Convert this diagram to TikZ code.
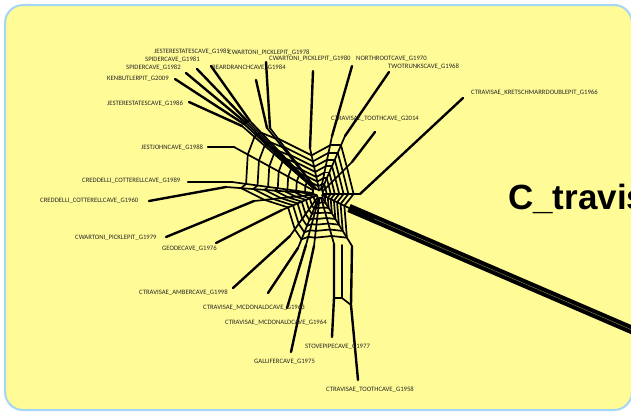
\documentclass[tikz,border=0pt]{standalone}
\usepackage{fontspec}
\setmainfont{Carlito}
\newfontfamily\titlefont{Liberation Sans}
\usetikzlibrary{calc}
\definecolor{bgyellow}{RGB}{255,251,150}
\definecolor{bdblue}{RGB}{165,215,245}
\definecolor{bandline}{RGB}{150,145,100}
\tikzset{
  leafedge/.style={line width=2.4pt, line cap=round},
  meshedge/.style={line width=1.7pt, line cap=round, line join=round},
  leaflabel/.style={anchor=west, inner sep=0pt, font=\fontsize{6.7}{7}\selectfont, text=black!85},
}
\begin{document}
\begin{tikzpicture}[x=1pt,y=-1pt]
\useasboundingbox (0,0) rectangle (631,415);
\clip (0,0) rectangle (631,415);
\fill[white] (0,0) rectangle (631,415);
\draw[bdblue, line width=2pt, fill=bgyellow, rounded corners=18pt] (5,5) rectangle (632,410);
\node[anchor=base west, inner sep=0pt, font=\titlefont\bfseries\fontsize{35}{40}\selectfont] (title) at (508,209) {C\_travis};

\coordinate (C) at (320,194);
\foreach \n/\lx/\ly/\px/\py [count=\c] in {
  k/463/98/360/194, band/660/342/349/208, ga/358/380/352/246, st/332/337/334/244,
  gl/291/352/314/246, mb/287/308/306/245, ma/268/293/298/248, am/233/288/290/236,
  ge/216/243/282/210, cw/166/237/254/201, ca/149/201/226/187, cb/188/182/232/182,
  jj/208/147/234/147, jb/189/102/242/126, kb/175/79/244/124, sb/186/73/246/123,
  sa/197/69/248/122, ja/211/66/250/121, br/256/80/267/128, wa/266/62/270/128,
  wb/313/71/310/148, nr/352/66/332/136, tt/389/72/345/136, tc/375/132/352/162} {
  \coordinate (L\c) at (\lx,\ly);
  \coordinate (P\c) at (\px,\py);
  \coordinate (R1\c) at ($(C)!0.84!(P\c)$);
  \coordinate (R2\c) at ($(C)!0.71!(P\c)$);
  \coordinate (R3\c) at ($(C)!0.59!(P\c)$);
  \coordinate (R4\c) at ($(C)!0.48!(P\c)$);
  \coordinate (R5\c) at ($(C)!0.37!(P\c)$);
  \coordinate (R6\c) at ($(C)!0.27!(P\c)$);
  \coordinate (R7\c) at ($(C)!0.17!(P\c)$);
  \coordinate (R8\c) at ($(C)!0.08!(P\c)$);
}
% mesh
\foreach \i [remember=\i as \j (initially 24)] in {1,...,24} {
  \draw[meshedge] (R1\j) -- (R1\i) (R2\j) -- (R2\i) (R3\j) -- (R3\i)
                  (R4\j) -- (R4\i) (R5\j) -- (R5\i) (R6\j) -- (R6\i)
                  (R7\j) -- (R7\i) (R8\j) -- (R8\i);
}
\foreach \i in {1,...,24} {
  \draw[meshedge] (P\i) -- (R1\i) -- (R2\i) -- (R3\i) -- (R4\i) -- (R5\i) -- (R6\i) -- (R7\i) -- (R8\i);
}
% leaf edges
\foreach \i in {1,5,6,7,8,9,10,11,12,13,14,15,16,17,18,19,20,21,22,23,24} {
  \draw[leafedge] (L\i) -- (P\i);
}
% band
\draw[line width=8.5pt] (P2) -- (L2);
\draw[bandline, line width=0.35pt] ($(P2)!0.08!(L2)$) -- (L2);
% bottom split
\coordinate (stm) at (334,298);
\coordinate (vx) at (342,298);
\coordinate (vt) at (342,245);
\coordinate (gam) at (351,305);
\draw[leafedge] (L4) -- (stm) -- (P4);
\draw[leafedge] (L3) -- (gam) -- (P3);
\draw[meshedge] (vt) -- (vx) (stm) -- (vx) -- (gam);

% labels
\node[leaflabel] (t1) at (471,93) {CTRAVISAE\_KRETSCHMARRDOUBLEPIT\_G1966};
\node[leaflabel] (t3) at (326,390) {CTRAVISAE\_TOOTHCAVE\_G1958};
\node[leaflabel] (t4) at (305,347) {STOVEPIPECAVE\_G1977};
\node[leaflabel] (t5) at (254,362) {GALLIFERCAVE\_G1975};
\node[leaflabel] (t6) at (225,323) {CTRAVISAE\_MCDONALDCAVE\_G1964};
\node[leaflabel] (t7) at (203,308) {CTRAVISAE\_MCDONALDCAVE\_G1963};
\node[leaflabel] (t8) at (139,293) {CTRAVISAE\_AMBERCAVE\_G1998};
\node[leaflabel] (t9) at (162,249) {GEODECAVE\_G1976};
\node[leaflabel] (t10) at (75,238) {CWARTONI\_PICKLEPIT\_G1979};
\node[leaflabel] (t11) at (40,201) {CREDDELLI\_COTTERELLCAVE\_G1960};
\node[leaflabel] (t12) at (82,181) {CREDDELLI\_COTTERELLCAVE\_G1989};
\node[leaflabel] (t13) at (141,148) {JESTJOHNCAVE\_G1988};
\node[leaflabel] (t14) at (107,104) {JESTERESTATESCAVE\_G1986};
\node[leaflabel] (t15) at (107,79) {KENBUTLERPIT\_G2009};
\node[leaflabel] (t16) at (126,68) {SPIDERCAVE\_G1982};
\node[leaflabel] (t17) at (145,60) {SPIDERCAVE\_G1981};
\node[leaflabel] (t18) at (154,52) {JESTERESTATESCAVE\_G1985};
\node[leaflabel] (t19) at (212,68) {BEARDRANCHCAVE\_G1984};
\node[leaflabel] (t20) at (228,53) {CWARTONI\_PICKLEPIT\_G1978};
\node[leaflabel] (t21) at (269,59) {CWARTONI\_PICKLEPIT\_G1980};
\node[leaflabel] (t22) at (356,59) {NORTHROOTCAVE\_G1970};
\node[leaflabel] (t23) at (388,67) {TWOTRUNKSCAVE\_G1968};
\node[leaflabel] (t24) at (331,119) {CTRAVISAE\_TOOTHCAVE\_G2014};
\end{tikzpicture}
\end{document}
